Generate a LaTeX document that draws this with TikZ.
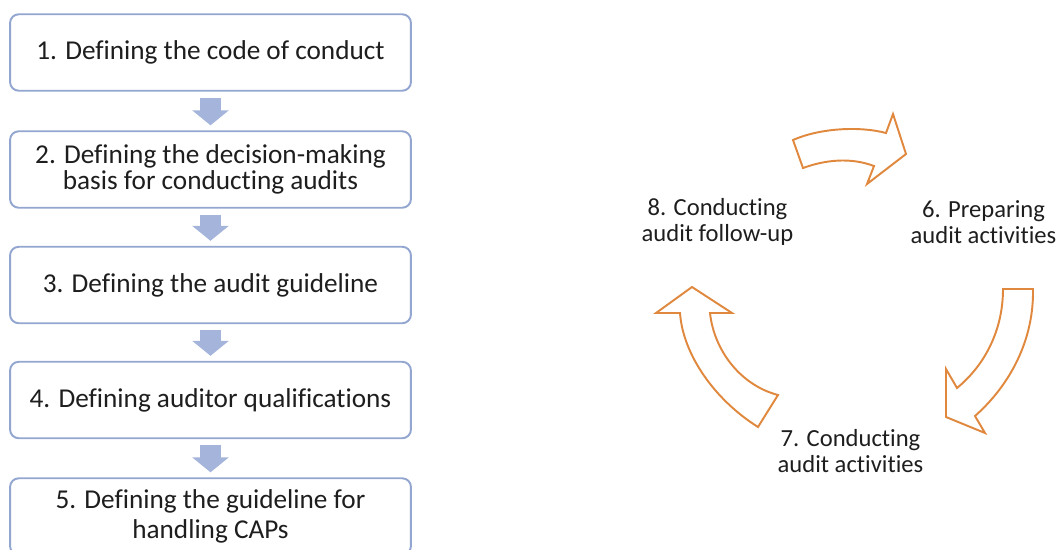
\documentclass[tikz,border=0pt]{standalone}
\usepackage{fontspec}
\setmainfont{Carlito}[Ligatures=NoCommon]
\usepackage{xcolor}
\usetikzlibrary{arrows.meta, positioning}

\definecolor{boxline}{RGB}{146,166,208}
\definecolor{flowfill}{RGB}{165,180,218}
\definecolor{cycleline}{RGB}{224,136,62}
\definecolor{textdark}{RGB}{30,30,30}

\begin{document}
\begin{tikzpicture}[
    x=0.02cm, y=-0.02cm,
    stepbox/.style={draw=boxline, line width=1.1pt, rectangle, rounded corners=5pt, fill=white,
      minimum width=8.02cm, minimum height=1.53cm, align=center, text=textdark,
      font=\fontsize{15.5}{14.4}\selectfont},
    flowarrow/.style={draw=flowfill, line width=0.44cm,
      -{Triangle[width=0.72cm, length=0.3cm, fill=flowfill]},
      shorten <=0.12cm, shorten >=0.1cm},
    phase/.style={align=center, text=textdark, font=\fontsize{14}{15.2}\selectfont},
    cyclearrow/.style={draw=cycleline, line width=1.1pt, fill=white, line join=miter}
  ]
  \useasboundingbox (0,0) rectangle (1059,549);
  \clip (0,0) rectangle (1059,549);

  % Nodes
  \node[stepbox] (s1) at (210.5,52.5) {1. Defining the code of conduct};
  \node[stepbox] (s2) at (210.5,169.5) {2. Defining the decision-making\\basis for conducting audits};
  \node[stepbox] (s3) at (210.5,285) {3. Defining the audit guideline};
  \node[stepbox] (s4) at (210.5,400) {4. Defining auditor qualifications};
  \node[stepbox, font=\fontsize{15.5}{17}\selectfont] (s5) at (210.5,516.5) {5. Defining the guideline for\\handling CAPs};

  \node[phase] (p8) at (717.5,222) {8. Conducting\\audit follow-up};
  \node[phase] (p6) at (983.5,222) {6. Preparing\\audit activities};
  \node[phase] (p7) at (850.5,451) {7. Conducting\\audit activities};

  % Connections
  \draw[flowarrow] (s1) -- (s2);
  \draw[flowarrow] (s2) -- (s3);
  \draw[flowarrow] (s3) -- (s4);
  \draw[flowarrow] (s4) -- (s5);

  % Cycle arrows
  \draw[cyclearrow] (793,140) .. controls (820,128) and (860,126) .. (886,133)
    -- (893,114) -- (906,154) -- (867,184) -- (874,166)
    .. controls (850,157) and (825,160) .. (803,168) -- cycle;
  \draw[cyclearrow] (1003,289) -- (1033,289)
    .. controls (1034,340) and (1010,385) .. (975,416)
    -- (985,433) -- (946,417) -- (946,369) -- (957,388)
    .. controls (985,365) and (1003,330) .. cycle;
  \draw[cyclearrow] (692,287) -- (732,313) -- (710,313)
    .. controls (714,350) and (740,385) .. (778,395)
    -- (758,427) .. controls (715,400) and (683,355) .. (680,313)
    -- (656,313) -- cycle;
\end{tikzpicture}
\end{document}
